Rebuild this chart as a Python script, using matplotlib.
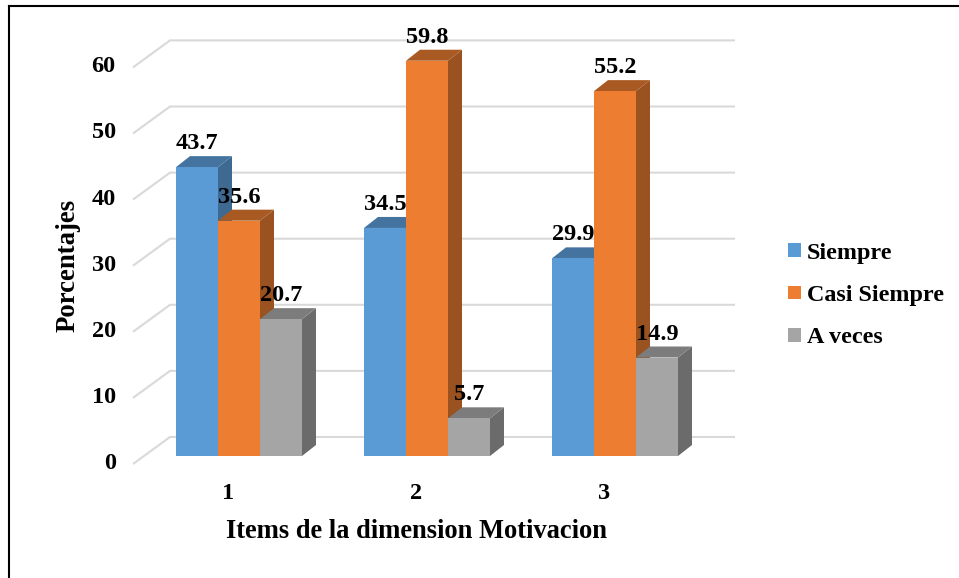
import matplotlib
matplotlib.use("Agg")
import matplotlib.pyplot as plt
from matplotlib.patches import Polygon
from matplotlib.lines import Line2D

plt.rcParams['font.family'] = ['Liberation Serif', 'DejaVu Serif']
plt.rcParams['font.weight'] = 'bold'

categories = ['1', '2', '3']
series_names = ['Siempre', 'Casi Siempre', 'A veces']
siempre = [43.7, 34.5, 29.9]
casi_siempre = [35.6, 59.8, 55.2]
a_veces = [20.7, 5.7, 14.9]
y_ticks = [0, 10, 20, 30, 40, 50, 60]

W, H = 959, 578
fig = plt.figure(figsize=(W / 100, H / 100), dpi=100, facecolor='white')

# axes box in pixels
L, R, B, T = 133, 735, 461, 41
ax = fig.add_axes([L / W, 1 - B / H, (R - L) / W, (B - T) / H])
PX_Y = 6.61     # pixels per value unit
PX_X = 188.0    # pixels per category
X0 = 228        # pixel of category 1
ax.set_xlim(1 - (X0 - L) / PX_X, 1 + (R - X0) / PX_X)
ax.set_ylim(0, (B - T) / PX_Y)
ax.set_facecolor('none')
for s in ax.spines.values():
    s.set_visible(False)


def ux(px):
    return px / PX_X


def uy(px):
    return px / PX_Y


# walls: gridlines with a diagonal on the side
for v in y_ticks:
    ax.plot([1 - ux(X0 - L), 1 - ux(X0 - 170), 1 + ux(R - X0)],
            [v - uy(3), v + uy(24), v + uy(24)],
            color='#D9D9D9', lw=1.5, zorder=1, clip_on=False,
            solid_joinstyle='miter', solid_capstyle='butt')

colors = ['#5B9BD5', '#ED7D31', '#A5A5A5']
top_colors = ['#44739F', '#A95A22', '#7C7C7C']
side_colors = ['#3E6A92', '#9A5220', '#6B6B6B']
bar_w = ux(42)
lift = uy(5)
dep_x, dep_y = ux(14), uy(11)
group_shift = ux(11)

z = 2
handles = []
for i, (name, vals) in enumerate(zip(series_names, [siempre, casi_siempre, a_veces])):
    for c, v in enumerate(vals):
        x0 = 1 + c + group_shift + (i - 1.5) * bar_w
        x1 = x0 + bar_w
        y0, y1 = lift, v + lift
        # side
        ax.add_patch(Polygon([(x1, y0), (x1 + dep_x, y0 + dep_y), (x1 + dep_x, y1 + dep_y), (x1, y1)],
                             closed=True, fc=side_colors[i], ec='none', zorder=z, clip_on=False))
        # top
        ax.add_patch(Polygon([(x0, y1), (x1, y1), (x1 + dep_x, y1 + dep_y), (x0 + dep_x, y1 + dep_y)],
                             closed=True, fc=top_colors[i], ec='none', zorder=z, clip_on=False))
        # front
        b = ax.bar(x0, v, width=bar_w, bottom=lift, align='edge', color=colors[i],
                   zorder=z + 0.1, clip_on=False, linewidth=0)
        ax.annotate(f'{v:.1f}', xy=(x0 + bar_w / 2, y1), xytext=(0, 23.5 * 0.72),
                    textcoords='offset points', ha='center', va='center',
                    fontsize=17.5, fontweight='bold', color='black', zorder=20,
                    annotation_clip=False)
        z += 0.5
    handles.append(b[0])

ax.set_xticks([1, 2, 3], categories)
ax.set_yticks(y_ticks, [str(v) for v in y_ticks])
ax.tick_params(axis='both', length=0, labelsize=17.5)
ax.tick_params(axis='x', pad=15.5)
ax.tick_params(axis='y', pad=12.5)

fig.text(416.5 / W, 1 - 532 / H, 'Items de la dimension Motivacion',
         ha='center', va='center', fontsize=19.1, fontweight='bold')
fig.text(68 / W, 1 - 265 / H, 'Porcentajes', rotation=90,
         ha='center', va='center', fontsize=19.3, fontweight='bold')

fig.legend(handles, series_names, loc='center left',
           bbox_to_anchor=(782 / W, 1 - 295.5 / H), frameon=False, fontsize=17.4,
           handlelength=0.5, handleheight=0.5, handletextpad=0.25,
           labelspacing=0.88, borderpad=0.267, borderaxespad=0)

# page frame (top and left only)
fig.add_artist(Line2D([8.5 / W, 1], [1 - 5.5 / H, 1 - 5.5 / H], color='black', lw=1.5))
fig.add_artist(Line2D([8.5 / W, 8.5 / W], [0, 1 - 5.5 / H], color='black', lw=1.5))

fig.savefig('out.png', dpi=100, facecolor='white')
